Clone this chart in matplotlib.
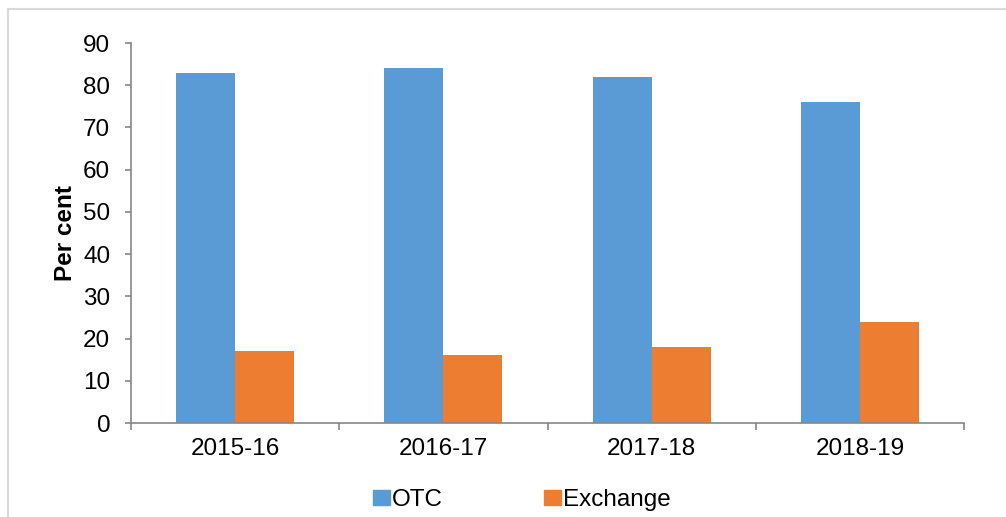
import matplotlib
matplotlib.use("Agg")
import matplotlib.pyplot as plt
import numpy as np
from matplotlib.patches import Rectangle
from matplotlib.lines import Line2D

plt.rcParams['font.family'] = ['Liberation Sans', 'DejaVu Sans']

years = ["2015-16", "2016-17", "2017-18", "2018-19"]
otc = [83, 84, 82, 76]
exchange = [17, 16, 18, 24]
series_names = ["OTC", "Exchange"]
colors = ["#5B9BD5", "#ED7D31"]

W, H = 1006, 517
fs = 17.5
fig = plt.figure(figsize=(W / 100, H / 100), dpi=100)

# axes box in pixels: x 131..964, y 43..423
ax = fig.add_axes([131 / W, 1 - 423 / H, (964 - 131) / W, (423 - 43) / H])

x = np.arange(len(years))
bw = 0.283
ax.bar(x - bw / 2, otc, bw, color=colors[0], label=series_names[0])
ax.bar(x + bw / 2, exchange, bw, color=colors[1], label=series_names[1])

ax.set_xlim(-0.5, len(years) - 0.5)
ax.set_ylim(0, 90)
ax.set_yticks(range(0, 91, 10))
ax.set_xticks(x)
ax.set_xticklabels(years)
ax.set_xticks(np.arange(-0.5, len(years)), minor=True)

spine_c = "#868686"
for s in ["top", "right"]:
    ax.spines[s].set_visible(False)
for s in ["left", "bottom"]:
    ax.spines[s].set_color(spine_c)
    ax.spines[s].set_linewidth(1.2)

ax.tick_params(axis="y", which="major", length=4.5, width=1.2, color=spine_c,
               labelsize=fs, pad=10.5)
ax.tick_params(axis="x", which="major", length=0, labelsize=fs, pad=11)
ax.tick_params(axis="x", which="minor", length=5, width=1.2, color=spine_c)

ax.set_ylabel("Per cent", fontsize=fs, fontweight="bold")
ax.yaxis.set_label_coords(-0.0648, 0.5)

handles = [Rectangle((0, 0), 1, 1, color=c) for c in colors]
fig.legend(handles, series_names, loc="center", bbox_to_anchor=(522 / W, 1 - 500 / H),
           ncol=2, frameon=False, fontsize=fs, handlelength=0.7, handleheight=0.58,
           handletextpad=0.08, columnspacing=4.15)

# light frame around the chart area (only top and left visible)
fig.add_artist(Line2D([8 / W, 8 / W], [0, 1 - 9 / H], transform=fig.transFigure,
                      color="#d9d9d9", lw=1.5))
fig.add_artist(Line2D([8 / W, 1005 / W], [1 - 9 / H, 1 - 9 / H], transform=fig.transFigure,
                      color="#d9d9d9", lw=1.5))

fig.savefig("out.png", dpi=100)
